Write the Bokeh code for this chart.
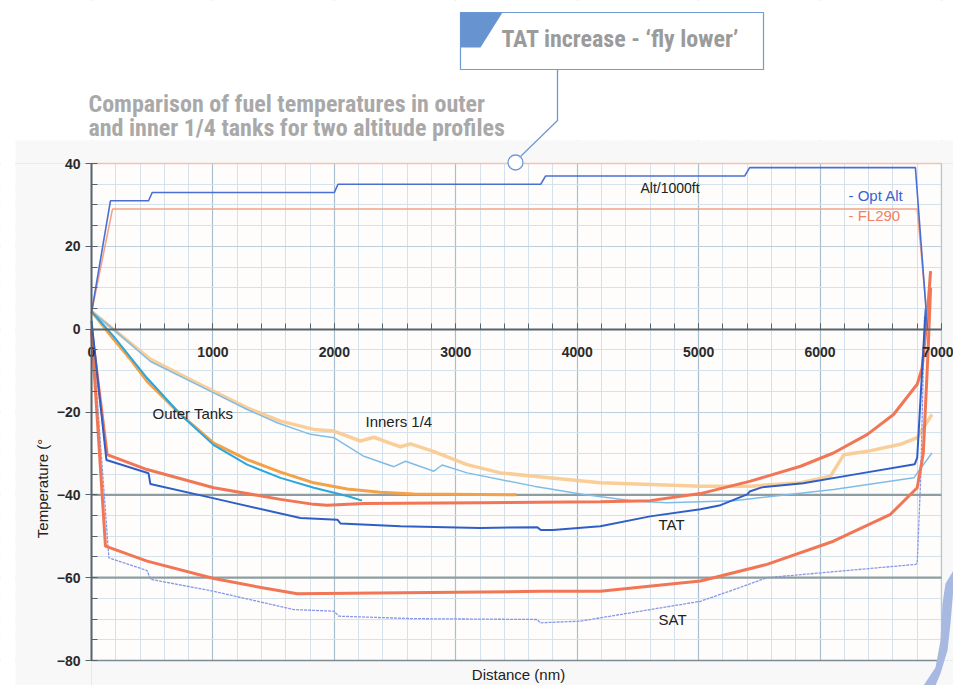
import math
from bokeh.plotting import figure
from bokeh.models import Range1d, SingleIntervalTicker, Grid, LinearAxis
from bokeh.core.properties import value
from bokeh.embed import file_html
from bokeh.resources import INLINE

# ---------------- data ----------------
x_ticks = [0, 1000, 2000, 3000, 4000, 5000, 6000, 7000]

alt_opt_x = [0, 156, 470, 500, 2000, 2030, 3700, 3740, 5380, 5420, 6785, 6885]
alt_opt_y = [4, 31, 31, 33, 33, 35, 35, 37, 37, 39, 39, 0]

alt_fl_x = [0, 173, 6800, 6890]
alt_fl_y = [4, 29, 29, 0]

tat_opt_x = [0, 123, 470, 485, 1000, 1720, 2025, 2050, 2545, 3200, 3670, 3700, 3800, 4190,
             4600, 5015, 5180, 5400, 5420, 5520, 5860, 6300, 6780, 6800, 6850, 6870]
tat_opt_y = [2, -31.6, -34.8, -37.4, -40.8, -45.6, -46.0, -46.9, -47.6, -48.0, -47.8, -48.5,
             -48.5, -47.6, -45.2, -43.5, -42.5, -39.9, -39.2, -38.2, -37.2, -35.0, -32.6,
             -31.0, -5.0, 5.0]

tat_fl_x = [0, 129, 458, 1007, 1556, 1831, 1940, 2243, 3203, 4190, 4600, 5015, 5427, 5840,
            6110, 6390, 6605, 6800, 6840, 6880, 6910]
tat_fl_y = [0, -30.3, -33.9, -38.3, -41.1, -42.3, -42.5, -42.1, -41.9, -41.7, -41.4, -39.7,
            -36.7, -33.1, -29.9, -25.4, -20.6, -13.3, -9.4, 2.0, 14.0]

sat_fl_x = [0, 115, 458, 1007, 1419, 1694, 3697, 4190, 5015, 5563, 6110, 6580, 6800, 6850,
            6890, 6910]
sat_fl_y = [0, -52.4, -56.0, -60.2, -62.5, -63.9, -63.3, -63.3, -60.8, -56.8, -51.2, -44.7,
            -38.3, -30.0, -5.0, 10.0]

sat_opt_x = [0, 143, 458, 486, 1007, 1666, 1996, 2037, 2654, 3670, 3697, 4027, 4190, 5015,
             5290, 5563, 6786, 6800, 6830, 6860]
sat_opt_y = [2, -55.2, -58.3, -60.4, -63.3, -67.7, -68.1, -69.3, -69.9, -70.1, -70.9, -70.5,
             -69.7, -65.7, -62.9, -60.0, -56.8, -56.5, -35.0, 3.0]

outer_fl_x = [0, 184, 321, 458, 623, 733, 1007, 1282, 1556, 1831, 2105, 2380, 2654, 3203, 3500]
outer_fl_y = [4.3, -2.5, -7.3, -12.6, -17.4, -20.6, -27.5, -31.5, -34.5, -37.1, -38.6, -39.4,
              -39.8, -39.9, -40.0]

outer_opt_x = [0, 184, 458, 733, 1007, 1282, 1556, 1831, 2105, 2228]
outer_opt_y = [4.3, -1.8, -11.8, -20.6, -28.0, -32.7, -35.9, -38.3, -40.3, -41.4]

inner_fl_x = [0, 184, 486, 596, 870, 1007, 1282, 1556, 1831, 1996, 2215, 2325, 2545, 2627,
              2815, 3093, 3368, 3643, 3918, 4190, 4603, 5015, 5427, 5840, 6086, 6196, 6388,
              6662, 6800, 6921]
inner_fl_y = [4.3, -0.1, -7.3, -8.9, -13.0, -15.0, -19.0, -22.2, -24.2, -24.6, -27.0, -26.1,
              -28.4, -27.7, -29.5, -32.7, -34.7, -35.5, -36.3, -37.1, -37.5, -37.9, -37.9,
              -37.1, -35.5, -30.3, -29.5, -27.8, -26.2, -20.6]

inner_opt_x = [0, 184, 486, 1007, 1282, 1529, 1803, 1996, 2243, 2490, 2586, 2819, 2888, 3093,
               3643, 4054, 4466, 4740, 5290, 6113, 6772, 6921]
inner_opt_y = [4.3, -0.1, -7.8, -15.4, -19.4, -22.6, -25.4, -26.2, -30.7, -33.2, -31.9, -34.3,
               -32.8, -34.7, -37.9, -39.9, -41.5, -41.9, -41.4, -38.7, -35.9, -29.9]

# ---------------- layout ----------------
W, H = 953, 685
# chart area in canvas pixels
CL, CR, CT, CB = 91, 941, 163, 660
X0, X1 = x_ticks[0], x_ticks[-1]
Y0, Y1 = -80, 40

SANS = "Liberation Sans"
NARROW = "Roboto Condensed"


def fx(px):
    """canvas pixel -> data x (used for placing decorations only)"""
    return X0 + (px - CL) / (CR - CL) * (X1 - X0)


def fy(py):
    return Y1 - (py - CT) / (CB - CT) * (Y1 - Y0)


p = figure(width=W, height=H, x_range=Range1d(fx(0), fx(W)), y_range=Range1d(fy(H), fy(0)),
           x_axis_location=None, y_axis_location=None, title=None,
           output_backend="svg", toolbar_location=None,
           min_border_left=0, min_border_right=0, min_border_top=0, min_border_bottom=0)
p.background_fill_color = "#fefdfc"
p.border_fill_color = "#ffffff"
p.outline_line_color = None

# ---------------- grids & axes ----------------
xt = SingleIntervalTicker(interval=1000, num_minor_ticks=5)
yt = SingleIntervalTicker(interval=20, num_minor_ticks=4)
p.add_layout(Grid(dimension=0, ticker=xt, bounds=(X0, X1), grid_line_color="#a9bfce",
                  grid_line_width=1.2, minor_grid_line_color="#d3e2ec"))
p.add_layout(Grid(dimension=1, ticker=yt, bounds=(Y0, Y1), grid_line_color="#bccfdc",
                  minor_grid_line_color="#d3e2ec"))

# mask everything outside the chart area (covers grid lines)
GREY = "#f8f8f8"
p.quad(left=fx(0), right=fx(W), top=fy(0), bottom=fy(140), fill_color="#ffffff", line_color=None)
p.quad(left=fx(0), right=fx(15), top=fy(140), bottom=fy(H), fill_color="#ffffff", line_color=None)
p.quad(left=fx(15), right=fx(W), top=fy(140), bottom=Y1, fill_color=GREY, line_color=None)
p.quad(left=fx(15), right=X0, top=Y1, bottom=fy(H), fill_color=GREY, line_color=None)
p.quad(left=X0, right=fx(W), top=Y0, bottom=fy(H), fill_color=GREY, line_color=None)
p.quad(left=X1, right=fx(W), top=Y1, bottom=Y0, fill_color=GREY, line_color=None)

# chart borders and reference lines
p.line([X0, X1], [Y1, Y1], line_color="#f3c3ae", line_width=1.5)
p.line([X0, X1], [Y0, Y0], line_color="#7d8a92", line_width=1.5)
p.line([X1, X1], [Y0, Y1], line_color="#b9c6ce", line_width=1.2)
for yv in (-40, -60):
    p.line([X0, X1], [yv, yv], line_color="#8e9d9f", line_width=2.2)

xaxis = LinearAxis(ticker=xt, fixed_location=0, bounds=(X0, X1))
yaxis = LinearAxis(ticker=yt, fixed_location=0, bounds=(Y0, Y1))
for ax in (xaxis, yaxis):
    ax.axis_line_color = "#56636b"
    ax.axis_line_width = 2
    ax.major_tick_line_color = "#56636b"
    ax.minor_tick_line_color = "#56636b"
    ax.major_label_text_font = SANS
    ax.major_label_text_font_size = "14px"
    ax.major_label_text_font_style = "bold"
    ax.major_label_text_color = "#2a2a2a"
xaxis.major_tick_in = 6
xaxis.major_tick_out = 0
xaxis.minor_tick_in = 6
xaxis.minor_tick_out = 0
xaxis.major_label_standoff = 18
yaxis.major_tick_in = 5
yaxis.major_tick_out = 6
yaxis.minor_tick_in = 6
yaxis.minor_tick_out = 0
yaxis.major_label_standoff = 5
p.add_layout(xaxis, "below")
p.add_layout(yaxis, "left")

# ---------------- series ----------------
p.line(inner_fl_x, inner_fl_y, line_color="#f9c98e", line_width=3.5, line_alpha=0.9)
p.line(inner_opt_x, inner_opt_y, line_color="#7fbde8", line_width=1.5)
p.line(outer_fl_x, outer_fl_y, line_color="#f2a24a", line_width=3)
p.line(outer_opt_x, outer_opt_y, line_color="#2aa6df", line_width=2)
p.line(sat_opt_x, sat_opt_y, line_color="#8898e4", line_width=1.3, line_dash="3 1")
p.line(sat_fl_x, sat_fl_y, line_color="#f07656", line_width=3)
p.line(tat_fl_x, tat_fl_y, line_color="#f07656", line_width=3)
p.line(tat_opt_x, tat_opt_y, line_color="#2f5fc6", line_width=2)
p.line(alt_fl_x, alt_fl_y, line_color="#f4a285", line_width=1.6)
p.line(alt_opt_x, alt_opt_y, line_color="#4a6fd3", line_width=1.6)


# ---------------- texts (placed by their visual centre line) ----------------
def lab(px, py, text, size="15px", color="#222222", font=SANS, style="normal",
        align="left", angle=0.0):
    p.text(x=[fx(px)], y=[fy(py)], text=[text], text_font=value(font), text_font_size=size,
           text_color=color, text_font_style=style, text_align=align,
           text_baseline="middle", angle=angle)


lab(640, 187, "Alt/1000ft", size="14px")
lab(152, 413, "Outer Tanks")
lab(365, 421, "Inners 1/4")
lab(658, 524, "TAT")
lab(658, 619, "SAT")
lab(848, 195, "- Opt Alt", color="#3a62d0")
lab(848, 215, "- FL290", color="#f3805e")
lab(518, 674, "Distance (nm)", align="center")
lab(42, 488, "Temperature (\u00b0", align="center", angle=math.pi / 2)

lab(88, 103, "Comparison of fuel temperatures in outer", size="24px", color="#a9a9a9",
    font=NARROW, style="bold")
lab(88, 127, "and inner 1/4 tanks for two altitude profiles", size="24px", color="#a9a9a9",
    font=NARROW, style="bold")

# callout box
p.quad(left=fx(460), right=fx(763), top=fy(12), bottom=fy(69), fill_color="#ffffff",
       line_color="#6f9ad6", line_width=1.2)
p.patch([fx(460), fx(502), fx(480), fx(460)], [fy(12), fy(12), fy(47), fy(47)],
        fill_color="#6794d0", line_color=None)
lab(501, 38, "TAT increase - \u2018fly lower\u2019", size="24px", color="#9b9b9b",
    font=NARROW, style="bold")

# leader line and circle
p.line([fx(557), fx(557), fx(520)], [fy(69), fy(120), fy(156)], line_color="#6f9ad6",
       line_width=1.3)
p.scatter(x=[fx(515)], y=[fy(162)], size=15, marker="circle", fill_color="#ffffff",
          line_color="#6f9ad6", line_width=1.3)

# decorative band bottom-right
band = [(953, 570), (945, 583), (942, 603), (940, 640), (935, 667), (923, 685),
        (935, 685), (940, 673), (947, 650), (950, 623), (953, 587)]
p.patch([fx(a) for a, b in band], [fy(b) for a, b in band], fill_color="#a7b9e0",
        line_color=None)

open("out.html", "w").write(file_html(p, INLINE))
